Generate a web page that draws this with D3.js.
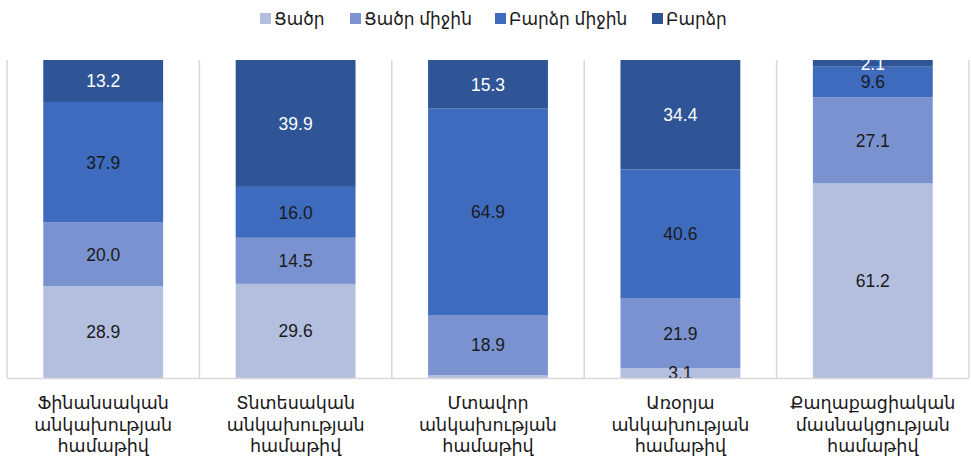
<!DOCTYPE html>
<html>
<head>
<meta charset="utf-8">
<script src="https://cdn.jsdelivr.net/npm/d3@7"></script>
<style>
  html, body { margin: 0; padding: 0; background: #fff; }
  svg { display: block; font-family: "Liberation Sans", Arial, "DejaVu Sans", sans-serif; }
</style>
</head>
<body>
<svg id="chart" width="971" height="461"></svg>
<script>
// Categories (three-line labels)
const categories = [
  ["Ֆինանսական", "անկախության", "համաթիվ"],
  ["Տնտեսական", "անկախության", "համաթիվ"],
  ["Մտավոր", "անկախության", "համաթիվ"],
  ["Առօրյա", "անկախության", "համաթիվ"],
  ["Քաղաքացիական", "մասնակցության", "համաթիվ"]
];
const seriesNames = ["Ցածր", "Ցածր միջին", "Բարձր միջին", "Բարձր"];
const seriesColors = ["#b4bfe0", "#7a93d0", "#3e6bbd", "#2f5597"];
const labelColors = ["#1a1a1a", "#1a1a1a", "#1a1a1a", "#ffffff"];

// Shares (%) per category, one array per series
const low       = [28.9, 29.6,  0.9,  3.1, 61.2];
const lowMid    = [20.0, 14.5, 18.9, 21.9, 27.1];
const highMid   = [37.9, 16.0, 64.9, 40.6,  9.6];
const high      = [13.2, 39.9, 15.3, 34.4,  2.1];
// Which segments carry a value label
const showLow   = [true, true, false, true, true];

const seriesValues = [low, lowMid, highMid, high];

const svg = d3.select("#chart");
const plot = { left: 7, right: 969, top: 60, bottom: 378 };

const keys = categories.map((c, i) => i);
const x = d3.scaleBand()
  .domain(keys)
  .range([plot.left, plot.right])
  .paddingInner(0.377)
  .paddingOuter(0.1885);
const y = d3.scaleLinear().domain([0, 100]).range([plot.bottom, plot.top]);

// Category separators
const step = x.step();
const sepX = d3.range(categories.length + 1).map(i => plot.left + i * step);
svg.append("g").selectAll("line").data(sepX).join("line")
  .attr("x1", d => d).attr("x2", d => d)
  .attr("y1", plot.top).attr("y2", plot.bottom)
  .attr("stroke", "#d9d9d9").attr("stroke-width", 1.5);

// Stack the series
const table = keys.map(i => {
  const row = { key: i };
  seriesNames.forEach((s, j) => row[s] = seriesValues[j][i]);
  return row;
});
const stacked = d3.stack().keys(seriesNames)(table);

const layers = svg.append("g").selectAll("g").data(stacked).join("g")
  .attr("fill", (d, j) => seriesColors[j]);
layers.selectAll("rect").data(d => d).join("rect")
  .attr("x", d => x(d.data.key))
  .attr("width", x.bandwidth())
  .attr("y", d => y(d[1]))
  .attr("height", d => y(d[0]) - y(d[1]));

// Value labels
stacked.forEach((layer, j) => {
  svg.append("g").selectAll("text")
    .data(layer.filter((d, i) => j !== 0 || showLow[i]))
    .join("text")
    .attr("x", d => x(d.data.key) + x.bandwidth() / 2)
    .attr("y", d => (y(d[0]) + y(d[1])) / 2)
    .attr("dy", "0.36em")
    .attr("text-anchor", "middle")
    .attr("font-size", 17.5)
    .attr("fill", labelColors[j])
    .text(d => (d[1] - d[0]).toFixed(1));
});

// Baseline
svg.append("line")
  .attr("x1", plot.left).attr("x2", plot.right)
  .attr("y1", plot.bottom + 0.5).attr("y2", plot.bottom + 0.5)
  .attr("stroke", "#d9d9d9").attr("stroke-width", 1.5);

// Category labels
const catG = svg.append("g").selectAll("text").data(keys).join("text")
  .attr("text-anchor", "middle")
  .attr("font-size", 17.5)
  .attr("fill", "#1a1a1a")
  .attr("x", i => x(i) + x.bandwidth() / 2)
  .attr("y", 409);
catG.selectAll("tspan").data(i => categories[i]).join("tspan")
  .attr("x", function () { return d3.select(this.parentNode).attr("x"); })
  .attr("dy", (d, k) => k === 0 ? 0 : 21.5)
  .text(d => d);

// Legend
const legendX = [260, 350, 495, 652];
const legend = svg.append("g").selectAll("g").data(seriesNames).join("g")
  .attr("transform", (d, j) => `translate(${legendX[j]},13)`);
legend.append("rect")
  .attr("width", 11).attr("height", 11)
  .attr("fill", (d, j) => seriesColors[j]);
legend.append("text")
  .attr("x", 14).attr("y", 5.5).attr("dy", "0.36em")
  .attr("font-size", 17)
  .attr("fill", "#1a1a1a")
  .text(d => d);
</script>
</body>
</html>
